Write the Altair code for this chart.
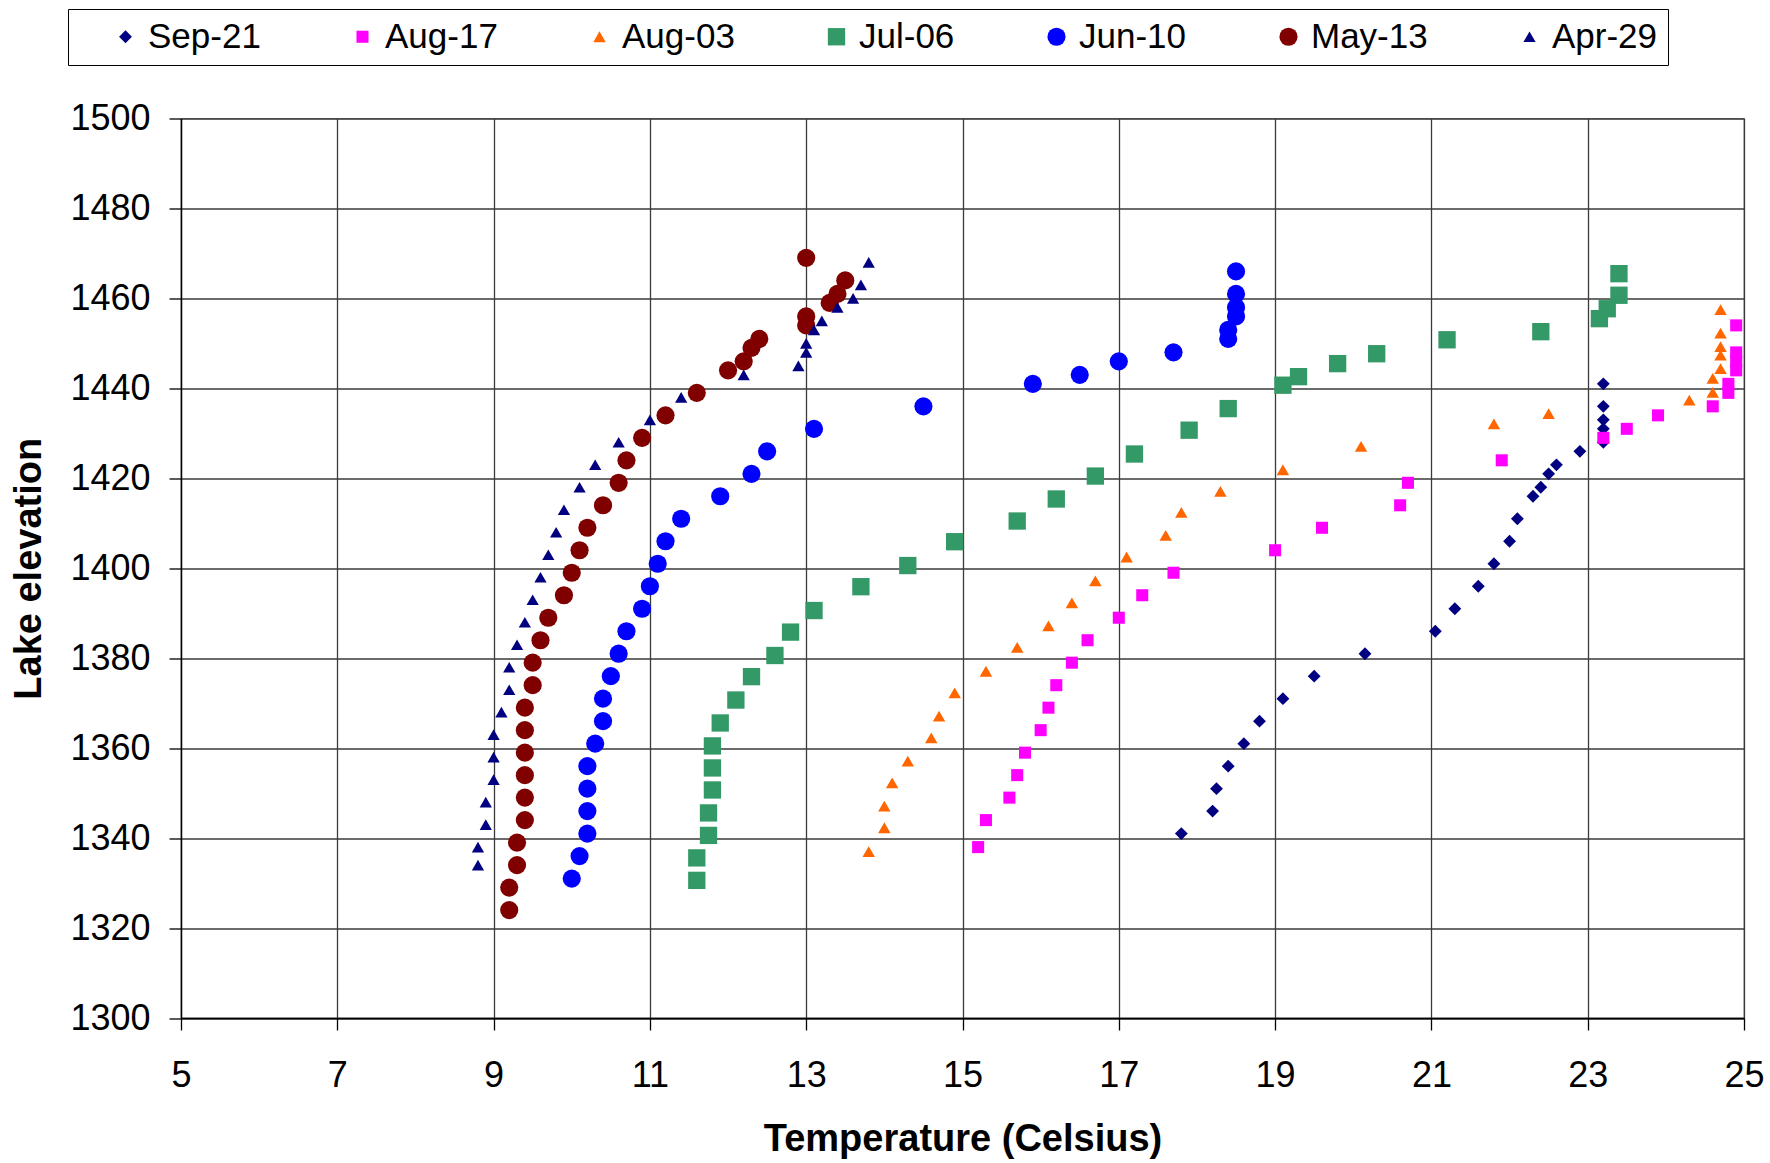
import altair as alt
import pandas as pd

# Series in legend / drawing order
series_names = ["Sep-21", "Aug-17", "Aug-03", "Jul-06", "Jun-10", "May-13", "Apr-29"]
series_colors = ["#000080", "#FF00FF", "#FF6600", "#339966", "#0000FF", "#800000", "#000080"]
series_shapes = ["diamond", "square", "triangle-up", "square", "circle", "circle", "triangle-up"]
series_sizes = [165, 145, 155, 300, 330, 330, 150]

# Temperature (C) and lake elevation profiles for each survey date
sep21_temp = [23.2, 23.2, 23.2, 23.2, 23.2, 22.9, 22.6, 22.5, 22.4, 22.3, 22.1, 22.0, 21.8,
              21.6, 21.3, 21.05, 20.15, 19.5, 19.1, 18.8, 18.6, 18.4, 18.25, 18.2, 17.8]
sep21_elev = [1441, 1436, 1433, 1431, 1428, 1426, 1423, 1421, 1418, 1416, 1411, 1406, 1401,
              1396, 1391, 1386, 1381, 1376, 1371, 1366, 1361, 1356, 1351, 1346, 1341]

aug17_temp = [24.9, 24.9, 24.9, 24.9, 24.8, 24.8, 24.6, 23.9, 23.5, 23.2, 21.9, 20.7, 20.6,
              19.6, 19.0, 17.7, 17.3, 17.0, 16.6, 16.4, 16.2, 16.1, 16.0, 15.8, 15.7, 15.6,
              15.3, 15.2]
aug17_elev = [1454, 1448, 1446, 1444, 1441, 1439, 1436, 1434, 1431, 1429, 1424, 1419, 1414,
              1409, 1404, 1399, 1394, 1389, 1384, 1379, 1374, 1369, 1364, 1359, 1354, 1349,
              1344, 1338]

aug03_temp = [24.7, 24.7, 24.7, 24.7, 24.7, 24.6, 24.6, 24.3, 22.5, 21.8, 20.1, 19.1, 18.3,
              17.8, 17.6, 17.1, 16.7, 16.4, 16.1, 15.7, 15.3, 14.9, 14.7, 14.6, 14.3, 14.1,
              14.0, 14.0, 13.8]
aug03_elev = [1457.5, 1452.3, 1449.3, 1447.4, 1444.4, 1442.2, 1439.1, 1437.4, 1434.4, 1432.1,
              1427.1, 1421.9, 1417.1, 1412.4, 1407.3, 1402.5, 1397.2, 1392.3, 1387.2, 1382.4,
              1377.1, 1372.3, 1367.1, 1362.3, 1357.1, 1352.3, 1347.1, 1342.3, 1337.0]

jul06_temp = [23.4, 23.4, 23.25, 23.15, 22.4, 21.2, 20.3, 19.8, 19.3, 19.1, 18.4, 17.9, 17.2,
              16.7, 16.2, 15.7, 14.9, 14.3, 13.7, 13.1, 12.8, 12.6, 12.3, 12.1, 11.9, 11.8,
              11.8, 11.8, 11.75, 11.75, 11.6, 11.6]
jul06_elev = [1465.5, 1460.7, 1457.7, 1455.5, 1452.6, 1450.8, 1447.7, 1445.5, 1442.6, 1440.7,
              1435.5, 1430.7, 1425.4, 1420.5, 1415.4, 1410.5, 1405.9, 1400.6, 1395.9, 1390.6,
              1385.8, 1380.6, 1375.9, 1370.7, 1365.6, 1360.5, 1355.6, 1350.7, 1345.6, 1340.6,
              1335.6, 1330.6]

jun10_temp = [18.5, 18.5, 18.5, 18.5, 18.4, 18.4, 17.7, 17.0, 16.5, 15.9, 14.5, 13.1, 12.5,
              12.3, 11.9, 11.4, 11.2, 11.1, 11.0, 10.9, 10.7, 10.6, 10.5, 10.4, 10.4, 10.3,
              10.2, 10.2, 10.2, 10.2, 10.1, 10.0]
jun10_elev = [1466, 1461, 1458, 1456, 1453, 1451, 1448, 1446, 1443, 1441, 1436, 1431, 1426,
              1421, 1416, 1411, 1406, 1401, 1396, 1391, 1386, 1381, 1376, 1371, 1366, 1361,
              1356, 1351, 1346, 1341, 1336, 1331]

may13_temp = [13.0, 13.5, 13.4, 13.3, 13.0, 13.0, 12.4, 12.3, 12.2, 12.0, 11.6, 11.2, 10.9,
              10.7, 10.6, 10.4, 10.2, 10.1, 10.0, 9.9, 9.7, 9.6, 9.5, 9.5, 9.4, 9.4, 9.4,
              9.4, 9.4, 9.4, 9.3, 9.3, 9.2, 9.2]
may13_elev = [1469, 1464, 1461, 1459, 1456, 1454, 1451, 1449, 1446, 1444, 1439, 1434, 1429,
              1424, 1419, 1414, 1409, 1404, 1399, 1394, 1389, 1384, 1379, 1374, 1369, 1364,
              1359, 1354, 1349, 1344, 1339, 1334, 1329, 1324]

apr29_temp = [13.8, 13.7, 13.6, 13.4, 13.2, 13.1, 13.0, 13.0, 12.9, 12.2, 11.4, 11.0, 10.6,
              10.3, 10.1, 9.9, 9.8, 9.7, 9.6, 9.5, 9.4, 9.3, 9.2, 9.2, 9.1, 9.0, 9.0, 9.0,
              8.9, 8.9, 8.8, 8.8]
apr29_elev = [1468, 1463, 1460, 1458, 1455, 1453, 1450, 1448, 1445, 1443, 1438, 1433, 1428,
              1423, 1418, 1413, 1408, 1403, 1398, 1393, 1388, 1383, 1378, 1373, 1368, 1363,
              1358, 1353, 1348, 1343, 1338, 1334]

x_ticks = [5, 7, 9, 11, 13, 15, 17, 19, 21, 23, 25]
y_ticks = list(range(1300, 1501, 20))

profiles = [
    ("Sep-21", sep21_temp, sep21_elev),
    ("Aug-17", aug17_temp, aug17_elev),
    ("Aug-03", aug03_temp, aug03_elev),
    ("Jul-06", jul06_temp, jul06_elev),
    ("Jun-10", jun10_temp, jun10_elev),
    ("May-13", may13_temp, may13_elev),
    ("Apr-29", apr29_temp, apr29_elev),
]
rows = []
for name, temps, elevs in profiles:
    for t, e in zip(temps, elevs):
        rows.append({"series": name, "temp": t, "elev": e})
df = pd.DataFrame(rows)

FONT = "Liberation Sans"

points = alt.Chart(df).mark_point(filled=True, opacity=1, strokeWidth=0).encode(
    x=alt.X(
        "temp:Q",
        scale=alt.Scale(domain=[5, 25], nice=False, zero=False),
        axis=alt.Axis(
            values=x_ticks, title="Temperature (Celsius)", format="d",
            labelPadding=28, titlePadding=27, labelFlush=False,
        ),
    ),
    y=alt.Y(
        "elev:Q",
        scale=alt.Scale(domain=[1300, 1500], nice=False, zero=False),
        axis=alt.Axis(
            values=y_ticks, title="Lake elevation", format="d",
            labelPadding=19, titlePadding=21, labelFlush=False,
        ),
    ),
    color=alt.Color(
        "series:N",
        scale=alt.Scale(domain=series_names, range=series_colors),
        legend=alt.Legend(
            orient="none", legendX=-113, legendY=-109.5, direction="horizontal",
            columns=7, title=None, labelFont=FONT, labelFontSize=35, labelColor="black",
            strokeColor="black", fillColor="white", padding=10, columnPadding=54,
            symbolOffset=30, labelOffset=5, symbolStrokeWidth=0,
        ),
    ),
    shape=alt.Shape("series:N", scale=alt.Scale(domain=series_names, range=series_shapes)),
    size=alt.Size("series:N", scale=alt.Scale(type="ordinal", domain=series_names, range=series_sizes)),
)

chart = points.properties(
    width=1563,
    height=899.5,
    background="white",
    autosize=alt.AutoSizeParams(type="none"),
    padding={"left": 181, "top": 118.5, "right": 26, "bottom": 145},
).configure_view(
    stroke="#808080", strokeWidth=1.3
).configure_axis(
    labelFont=FONT, labelFontSize=36, labelColor="black",
    titleFont=FONT, titleFontSize=38, titleFontWeight="bold", titleColor="black",
    domainColor="black", domainWidth=1.3,
    tickColor="black", tickSize=12, tickWidth=1.3,
    gridColor="#3a3a3a", gridWidth=1.3, gridOpacity=1,
)

chart.save("out.html", embed_options={"renderer": "svg", "actions": False})
